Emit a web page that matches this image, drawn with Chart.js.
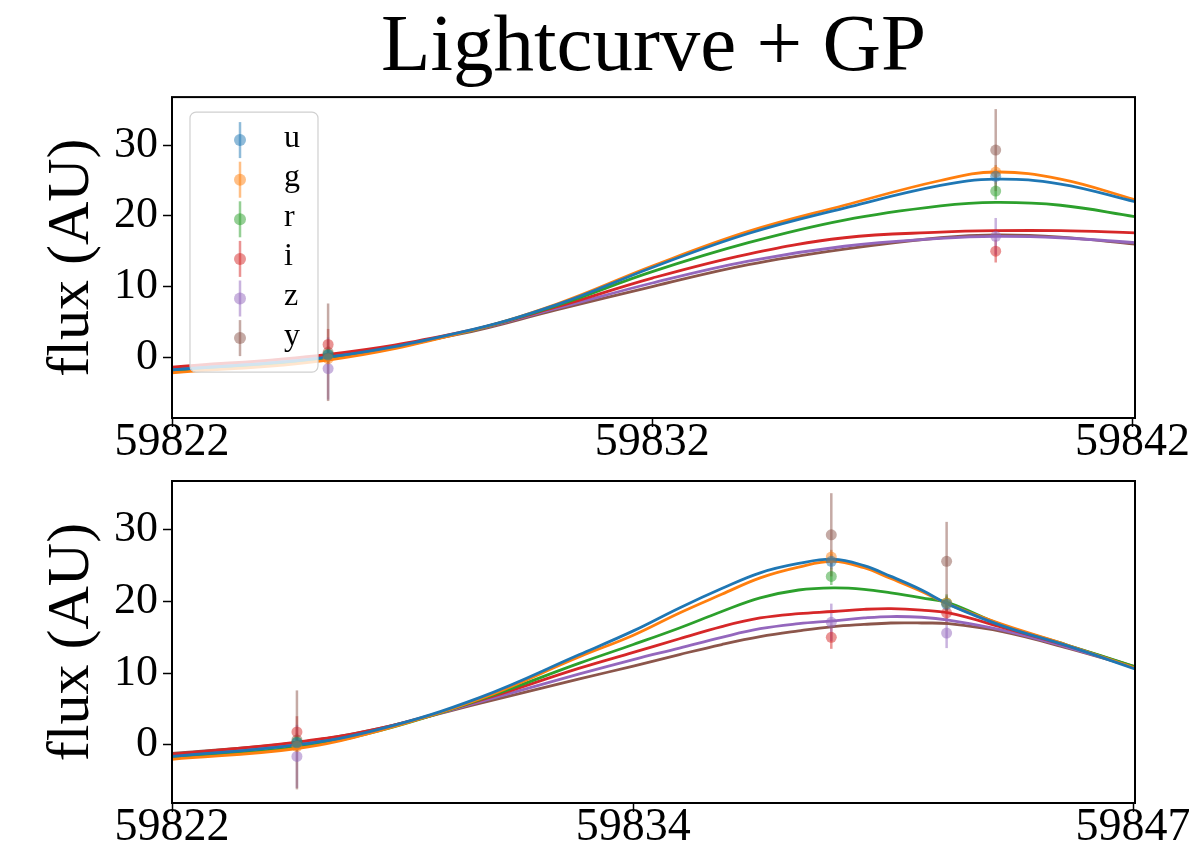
<!DOCTYPE html>
<html>
<head>
  <title>Lightcurve + GP</title>
  <script src="https://cdn.jsdelivr.net/npm/chart.js"></script>
  <style>
    body { margin: 0; background: #fff; }
    #top-wrap { position: absolute; left: 0; top: 0; width: 1189px; height: 468px; }
    #bottom-wrap { position: absolute; left: 0; top: 468px; width: 1189px; height: 388px; }
  </style>
</head>
<body>
  <div id="top-wrap"><canvas id="top-chart"></canvas></div>
  <div id="bottom-wrap"><canvas id="bottom-chart"></canvas></div>

<script>
// passbands and their colours
const bands = ['u', 'g', 'r', 'i', 'z', 'y'];
const bandColors = ['#1f77b4', '#ff7f0e', '#2ca02c', '#d62728', '#9467bd', '#8c564b'];

// observed epochs (MJD)
const obsMjd = [59825.25, 59839.15, 59842.15];

// observed flux and 1-sigma errors, one array per band
const obsU = [0.3, 25.6, 19.6];
const obsG = [-0.2, 26.2, 19.8];
const obsR = [0.4, 23.5, 19.8];
const obsI = [1.8, 15.0, 18.4];
const obsZ = [-1.6, 17.1, 15.6];
const obsY = [0.7, 29.3, 25.6];

const errU = [1.0, 1.0, 1.0];
const errG = [0.8, 1.0, 1.0];
const errR = [1.2, 1.2, 1.2];
const errI = [2.2, 1.6, 1.5];
const errZ = [4.4, 2.6, 2.1];
const errY = [6.9, 5.8, 5.5];

// GP mean, fit to the first two epochs
const gpTopMjd = [59822, 59825.25, 59828, 59830, 59832, 59834, 59836, 59838, 59839.15, 59840.5, 59842.05];
const gpTopU = [-1.8, 0.0, 3.5, 7.4, 12.7, 17.5, 21.1, 24.3, 25.2, 24.5, 22.0];
const gpTopG = [-2.2, -0.4, 3.4, 7.5, 12.9, 17.8, 21.5, 25.0, 26.2, 25.2, 22.3];
const gpTopR = [-1.9, -0.2, 3.4, 7.3, 12.1, 16.2, 19.4, 21.4, 21.9, 21.5, 19.9];
const gpTopI = [-1.4, 0.4, 3.5, 7.1, 11.2, 14.6, 16.9, 17.7, 17.9, 17.9, 17.6];
const gpTopZ = [-1.7, 0.1, 3.4, 6.9, 10.5, 13.6, 15.7, 16.8, 17.1, 16.9, 16.2];
const gpTopY = [-1.6, 0.2, 3.3, 6.7, 10.0, 13.1, 15.3, 16.9, 17.3, 17.0, 16.0];

// GP mean, fit to all three epochs
const gpBotMjd = [59822, 59825.25, 59827.4, 59830, 59832.6, 59834, 59835.2, 59836.3, 59837.3, 59838.3,
                  59839.2, 59840, 59840.7, 59841.5, 59842.2, 59843.6, 59845.3, 59847.05];
const gpBotU = [-1.6, 0.0, 2.2, 6.6, 12.6, 15.9, 19.1, 21.8, 24.0, 25.3, 25.9, 25.0, 23.5, 21.6, 19.6, 16.6, 13.8, 10.6];
const gpBotG = [-2.0, -0.5, 2.0, 6.4, 12.3, 15.3, 18.4, 21.0, 23.3, 24.8, 25.6, 24.7, 23.2, 21.4, 19.6, 16.8, 13.9, 10.7];
const gpBotR = [-1.8, -0.3, 2.0, 6.3, 11.4, 14.0, 16.3, 18.6, 20.5, 21.6, 21.9, 21.7, 21.2, 20.5, 19.8, 16.7, 13.9, 10.9];
const gpBotI = [-1.3, 0.4, 2.3, 6.2, 10.7, 12.9, 14.8, 16.5, 17.7, 18.3, 18.6, 18.9, 19.0, 18.8, 18.4, 16.4, 13.8, 10.9];
const gpBotZ = [-1.4, 0.2, 2.2, 6.0, 9.9, 11.9, 13.5, 15.0, 16.2, 16.9, 17.3, 17.7, 17.9, 17.8, 17.4, 16.0, 13.6, 10.8];
const gpBotY = [-1.2, 0.3, 2.3, 5.8, 9.2, 11.0, 12.6, 14.0, 15.1, 15.9, 16.5, 16.8, 17.0, 17.0, 16.9, 15.8, 13.5, 10.8];

// tick labels
const yTicks = [0, 10, 20, 30];
const xTicksTop = [59822, 59832, 59842];
const xTicksBot = [59822, 59834, 59847];

const obsAll = [obsU, obsG, obsR, obsI, obsZ, obsY];
const errAll = [errU, errG, errR, errI, errZ, errY];
const gpTopAll = [gpTopU, gpTopG, gpTopR, gpTopI, gpTopZ, gpTopY];
const gpBotAll = [gpBotU, gpBotG, gpBotR, gpBotI, gpBotZ, gpBotY];

Chart.defaults.font.family = "'Liberation Serif', 'Times New Roman', serif";
Chart.defaults.color = '#000';

function alpha(hex, a) {
  const n = parseInt(hex.slice(1), 16);
  return `rgba(${(n >> 16) & 255}, ${(n >> 8) & 255}, ${n & 255}, ${a})`;
}

// vertical error bars under the points
const errorBars = {
  id: 'errorBars',
  beforeDatasetsDraw(chart) {
    const { ctx, chartArea: a, scales: { x, y } } = chart;
    ctx.save();
    ctx.beginPath();
    ctx.rect(a.left, a.top, a.width, a.height);
    ctx.clip();
    chart.data.datasets.forEach(ds => {
      if (!ds.errors) return;
      ctx.strokeStyle = ds.backgroundColor;
      ctx.lineWidth = 2.5;
      ds.data.forEach((p, i) => {
        const px = x.getPixelForValue(p.x);
        ctx.beginPath();
        ctx.moveTo(px, y.getPixelForValue(p.y - ds.errors[i]));
        ctx.lineTo(px, y.getPixelForValue(p.y + ds.errors[i]));
        ctx.stroke();
      });
    });
    ctx.restore();
  }
};

// box around the plot area
const frame = {
  id: 'frame',
  afterDraw(chart) {
    const { ctx, chartArea: a } = chart;
    ctx.save();
    ctx.strokeStyle = '#000';
    ctx.lineWidth = 2;
    ctx.strokeRect(a.left, a.top, a.width, a.height);
    ctx.restore();
  }
};

// legend with errorbar handles, inside the upper left corner
const bandLegend = {
  id: 'bandLegend',
  afterDatasetsDraw(chart) {
    const { ctx, chartArea: a } = chart;
    const bx = a.left + 18, by = a.top + 15, bw = 128, bh = 260, r = 6;
    ctx.save();
    ctx.beginPath();
    ctx.roundRect(bx, by, bw, bh, r);
    ctx.fillStyle = 'rgba(255,255,255,0.8)';
    ctx.fill();
    ctx.strokeStyle = '#d0d0d0';
    ctx.lineWidth = 1.2;
    ctx.stroke();
    ctx.font = "32px 'Liberation Serif', serif";
    ctx.textBaseline = 'middle';
    bands.forEach((b, i) => {
      const cy = by + 28 + i * 39.6;
      const mx = bx + 50;
      ctx.strokeStyle = alpha(bandColors[i], 0.5);
      ctx.lineWidth = 2.5;
      ctx.beginPath();
      ctx.moveTo(mx, cy - 18);
      ctx.lineTo(mx, cy + 18);
      ctx.stroke();
      ctx.fillStyle = alpha(bandColors[i], 0.5);
      ctx.beginPath();
      ctx.arc(mx, cy, 6, 0, Math.PI * 2);
      ctx.fill();
      ctx.fillStyle = '#000';
      ctx.fillText(b, bx + 94, cy - 2);
    });
    ctx.restore();
  }
};

function buildDatasets(gpMjd, gpAll, xMax) {
  const lines = bands.map((b, i) => ({
    type: 'line',
    label: b + ' GP',
    data: gpMjd.map((t, k) => ({ x: t, y: gpAll[i][k] })),
    borderColor: bandColors[i],
    borderWidth: 2.8,
    pointRadius: 0,
    tension: 0.4,
    fill: false,
    order: 2
  }));
  const points = bands.map((b, i) => {
    const keep = obsMjd.map((t, k) => k).filter(k => obsMjd[k] <= xMax);
    return {
      type: 'scatter',
      label: b,
      data: keep.map(k => ({ x: obsMjd[k], y: obsAll[i][k] })),
      errors: keep.map(k => errAll[i][k]),
      backgroundColor: alpha(bandColors[i], 0.5),
      borderWidth: 0,
      pointRadius: 5.5,
      order: 1
    };
  });
  return lines.concat(points);
}

function makeOptions(xTicks, xMin, xMax, yMin, yMax, xHeight, padTop, showTitle) {
  return {
    responsive: true,
    maintainAspectRatio: false,
    animation: false,
    devicePixelRatio: 1,
    layout: { padding: { left: 0, right: 54, top: padTop, bottom: 0 } },
    plugins: {
      legend: { display: false },
      tooltip: { enabled: false },
      title: {
        display: showTitle,
        text: 'Lightcurve + GP',
        fullSize: false,
        font: { size: 81, weight: 'normal', lineHeight: 1.1 },
        padding: { top: 4, bottom: 4 },
        color: '#000'
      }
    },
    scales: {
      x: {
        type: 'linear',
        min: xMin,
        max: xMax,
        border: { display: false },
        grid: { drawOnChartArea: false, drawTicks: true, tickLength: 9, tickColor: '#000', tickWidth: 1.5 },
        ticks: {
          font: { size: 46, lineHeight: 1 },
          padding: -7,
          maxRotation: 0,
          autoSkip: false,
          callback: v => String(v)
        },
        afterBuildTicks: s => { s.ticks = xTicks.map(v => ({ value: v })); },
        afterFit: s => { s.height = xHeight; s.paddingLeft = 0; s.paddingRight = 0; }
      },
      y: {
        type: 'linear',
        min: yMin,
        max: yMax,
        border: { display: false },
        grid: { drawOnChartArea: false, drawTicks: true, tickLength: 9, tickColor: '#000', tickWidth: 1.5 },
        ticks: {
          font: { size: 44, lineHeight: 1 },
          padding: 5,
          callback: v => String(v)
        },
        title: {
          display: true,
          text: 'flux (AU)',
          font: { size: 60, lineHeight: 1 },
          padding: { top: 42, bottom: 0 }
        },
        afterBuildTicks: s => { s.ticks = yTicks.map(v => ({ value: v })); },
        afterFit: s => { s.width = 172; s.paddingTop = 0; s.paddingBottom = 0; }
      }
    }
  };
}

const topChart = new Chart(document.getElementById('top-chart'), {
  data: { datasets: buildDatasets(gpTopMjd, gpTopAll, 59842.05) },
  options: makeOptions(xTicksTop, 59822, 59842.05, -8.6, 36.8, 50, 0, true),
  plugins: [errorBars, bandLegend, frame]
});

const bottomChart = new Chart(document.getElementById('bottom-chart'), {
  data: { datasets: buildDatasets(gpBotMjd, gpBotAll, 59847.05) },
  options: makeOptions(xTicksBot, 59822, 59847.05, -8.1, 36.8, 53, 13, false),
  plugins: [errorBars, frame]
});
</script>
</body>
</html>
